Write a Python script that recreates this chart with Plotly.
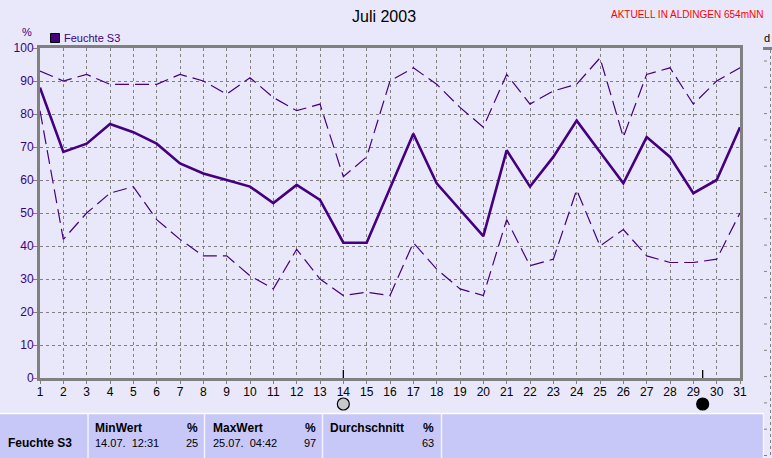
import plotly.graph_objects as go

# ---------------- data ----------------
days = list(range(1, 32))
hum_mean = [88, 68.5, 71, 77, 74.5, 71, 65, 62, 60, 58, 53, 58.5, 54, 41, 41, 57.5,
            74, 59, 51, 43, 69, 58, 67, 78, 68.5, 59, 73, 67, 56, 60, 76]
hum_max = [93, 90, 92, 89, 89, 89, 92, 90, 86, 91, 85, 81, 83, 61, 67, 90,
           94, 89, 82, 76, 92, 83, 87, 89, 97, 73, 92, 94, 83, 90, 94]
hum_min = [81, 42, 50, 56, 58, 48, 42, 37, 37, 31, 27, 39, 30, 25, 26, 25,
           41, 33, 27, 25, 48, 34, 36, 57, 40, 45, 37, 35, 35, 36, 50]
y_ticks = [0, 10, 20, 30, 40, 50, 60, 70, 80, 90, 100]
moon_days = [14, 29.4]
moon_fill = ["#C8C8C8", "#000000"]

series_name = "Feuchte S3"
title_text = "Juli 2003"
station_text = "AKTUELL IN ALDINGEN 654mNN"
unit_text = "%"
tbl_headers = ["MinWert", "MaxWert", "Durchschnitt"]
tbl_times = ["14.07.  12:31", "25.07.  04:42", ""]
tbl_values = ["25", "97", "63"]

# ---------------- styles ----------------
BG = "#E8E8FA"
LINE = "#44007E"
PURPLE_TXT = "#3C0080"
GRID = "#808080"
TABLE_BG = "#C8C8F8"
FONT = "Liberation Sans, Arial, sans-serif"

L, T, W, H = 40, 48, 700, 330   # plot area in pixels
FIG_W, FIG_H = 772, 458
DAY_PX = W / (days[-1] - days[0])


def PX(p):
    return (p - L) / W


def PY(p):
    return (T + H - p) / H


fig = go.Figure()

fig.add_trace(go.Scatter(x=days, y=hum_max, mode="lines", name="max",
                         line=dict(color=LINE, width=1.2, dash="14px,6px"),
                         showlegend=False, hoverinfo="skip"))
fig.add_trace(go.Scatter(x=days, y=hum_min, mode="lines", name="min",
                         line=dict(color=LINE, width=1.2, dash="14px,6px"),
                         showlegend=False, hoverinfo="skip"))
fig.add_trace(go.Scatter(x=days, y=hum_mean, mode="lines", name=series_name,
                         line=dict(color=LINE, width=2.6),
                         showlegend=False))

shapes = []
# moon markers: tick on the axis plus a circle below it
for d, fc in zip(moon_days, moon_fill):
    shapes.append(dict(type="line", xref="x", yref="y", x0=d, x1=d, y0=2.4, y1=-2.2,
                       line=dict(color="#000000", width=1.3)))
    r = 6.0 / DAY_PX
    shapes.append(dict(type="circle", xref="x", yref="paper",
                       x0=d - r, x1=d + r, y0=PY(410), y1=PY(398),
                       fillcolor=fc, line=dict(color="#000000", width=1.2)))

# ---------------- table at bottom ----------------
shapes.append(dict(type="rect", xref="paper", yref="paper", layer="below",
                   x0=PX(0), x1=PX(764), y0=PY(459), y1=PY(414),
                   fillcolor=TABLE_BG, line=dict(width=0)))
shapes.append(dict(type="line", xref="paper", yref="paper",
                   x0=PX(0), x1=PX(764), y0=PY(413.5), y1=PY(413.5),
                   line=dict(color="#FFFFFF", width=1.5)))
for xs in [88, 204.5, 322.5, 441.5, 763.5]:
    shapes.append(dict(type="line", xref="paper", yref="paper",
                       x0=PX(xs), x1=PX(xs), y0=PY(414), y1=PY(459),
                       line=dict(color="#F4F4FF", width=1.5)))

# ---------------- partial neighbour chart at right edge ----------------
shapes.append(dict(type="line", xref="paper", yref="paper",
                   x0=PX(763), x1=PX(773), y0=PY(48.5), y1=PY(48.5),
                   line=dict(color=GRID, width=3)))
shapes.append(dict(type="line", xref="paper", yref="paper",
                   x0=PX(770.5), x1=PX(770.5), y0=PY(50), y1=PY(459),
                   line=dict(color=GRID, width=1, dash="3px,3px")))
yy = 61.0
while yy < 459:
    shapes.append(dict(type="line", xref="paper", yref="paper",
                       x0=PX(764), x1=PX(767), y0=PY(yy), y1=PY(yy),
                       line=dict(color=GRID, width=1)))
    yy += 26.3

# legend swatch
shapes.append(dict(type="rect", xref="paper", yref="paper",
                   x0=PX(50.5), x1=PX(59.5), y0=PY(42.5), y1=PY(33.5),
                   fillcolor=LINE, line=dict(color="#000000", width=1)))

annotations = []


def txt(x, y, s, anchor="left", size=11, color="#000000", bold=False, fam=FONT):
    annotations.append(dict(xref="paper", yref="paper", x=PX(x), y=PY(y),
                            text=("<b>%s</b>" % s) if bold else s,
                            showarrow=False, xanchor=anchor, yanchor="middle",
                            borderpad=0, borderwidth=0,
                            font=dict(family=fam, size=size, color=color)))


txt(384, 16, title_text, anchor="center", size=16)
txt(763, 14, station_text, anchor="right", size=10, color="#FF0000")
txt(26.5, 32, unit_text, anchor="center", size=11, color=PURPLE_TXT)
txt(64, 38, series_name, anchor="left", size=11, color=PURPLE_TXT)
txt(764, 38, "d", anchor="left", size=11)

# table text
txt(8, 443, series_name, anchor="left", size=12, bold=True)
col_left = [95, 213, 330]
col_right = [198, 316, 434]
for i in range(3):
    txt(col_left[i], 428, tbl_headers[i], anchor="left", size=12, bold=True)
    txt(col_right[i], 428, unit_text, anchor="right", size=12, bold=True)
    if tbl_times[i]:
        txt(col_left[i], 443, tbl_times[i], anchor="left", size=11)
    txt(col_right[i], 443, tbl_values[i], anchor="right", size=11)

fig.update_layout(
    width=FIG_W, height=FIG_H,
    margin=dict(l=L, r=FIG_W - L - W, t=T, b=FIG_H - T - H, pad=0, autoexpand=False),
    paper_bgcolor=BG, plot_bgcolor=BG,
    font=dict(family=FONT, size=11, color="#000000"),
    shapes=shapes, annotations=annotations,
    showlegend=False,
)
fig.update_xaxes(range=[1, 31], tickmode="array", tickvals=days,
                 ticktext=[str(d) for d in days], automargin=False,
                 showgrid=True, gridcolor=GRID, griddash="3px,3px", gridwidth=1,
                 showline=True, linecolor=GRID, linewidth=3, mirror=True,
                 ticks="outside", ticklen=3, tickcolor=GRID,
                 tickfont=dict(size=12, color="#000000"), zeroline=False,
                 ticklabelstandoff=-2, fixedrange=True)
fig.update_yaxes(range=[0, 100], tickmode="array", tickvals=y_ticks,
                 ticktext=[str(v) for v in y_ticks], automargin=False,
                 showgrid=True, gridcolor=GRID, griddash="3px,3px", gridwidth=1,
                 showline=True, linecolor=GRID, linewidth=3, mirror=True,
                 ticks="outside", ticklen=4, tickcolor=GRID,
                 tickfont=dict(size=12, color=PURPLE_TXT), zeroline=False,
                 ticklabelstandoff=-3, fixedrange=True)

fig.write_html("out.html", config={"displayModeBar": False},
               post_script="document.body.style.margin='0';document.body.style.overflow='hidden';")
